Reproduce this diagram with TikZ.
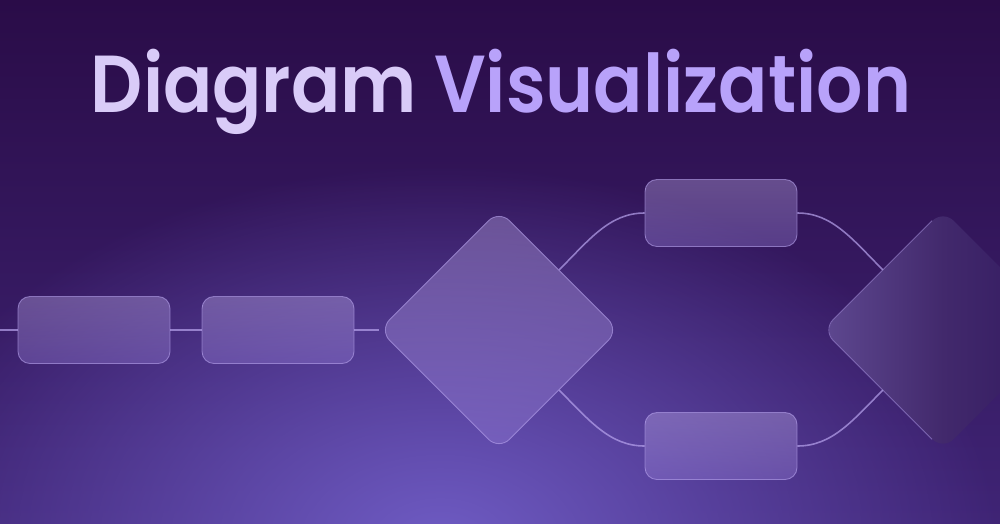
\documentclass[tikz,border=0pt]{standalone}
\usepackage{fontspec}
\newfontfamily\titlefont{Poppins}[UprightFont=* SemiBold]
\usetikzlibrary{shapes.geometric,positioning,fadings}

\definecolor{bgtop}{HTML}{2A0C48}
\definecolor{bgbot}{HTML}{3F2475}
\definecolor{glow}{HTML}{6F5CC4}
\definecolor{rdleft}{HTML}{5E4890}
\definecolor{rdmid}{HTML}{42296C}
\definecolor{rdright}{HTML}{30185F}
\definecolor{blocktop}{HTML}{C9B8F2}
\definecolor{blockbot}{HTML}{9A82DA}
\definecolor{blockline}{HTML}{B8A4EE}
\definecolor{linkcol}{HTML}{B8A4EE}
\definecolor{titleA}{HTML}{D9CBF8}
\definecolor{titleB}{HTML}{B8A2FA}

\tikzfading[name=glowfade, inner color=transparent!0, outer color=transparent!100]

\begin{document}
\begin{tikzpicture}[
    x=0.2mm, y=-0.2mm,
    block/.style={
        rectangle,
        rounded corners=2.4mm,
        minimum width=30.4mm,
        minimum height=13.4mm,
        inner sep=0pt,
        draw=blockline,
        draw opacity=0.6,
        line width=0.5pt,
        top color=blocktop,
        bottom color=blockbot,
        fill opacity=0.35
    },
    decision/.style={
        diamond,
        aspect=1,
        rounded corners=3mm,
        minimum width=48mm,
        minimum height=48mm,
        inner sep=0pt,
        draw=blockline,
        draw opacity=0.6,
        line width=0.5pt,
        top color=blocktop,
        bottom color=blockbot,
        fill opacity=0.35
    },
    fadeddecision/.style={
        diamond,
        aspect=1,
        rounded corners=3mm,
        minimum width=48mm,
        minimum height=48mm,
        inner sep=0pt,
        left color=rdleft,
        right color=rdright,
        middle color=rdmid
    },
    edge line/.style={
        draw=blockline,
        draw opacity=0.5,
        line width=0.5pt,
        rounded corners=3mm
    },
    link/.style={
        draw=linkcol,
        draw opacity=0.7,
        line width=0.9pt
    },
    title/.style={
        anchor=base,
        xscale=0.9,
        font=\titlefont\fontsize{46}{52}\selectfont
    }
]
\useasboundingbox (0,0) rectangle (1000,523);

% Sfondo
\shade[top color=bgtop, bottom color=bgbot] (0,0) rectangle (1000,523);
\fill[glow, path fading=glowfade] (440,545) ellipse (560 and 380);

% Titolo
\node[title] (head) at (501,112) {\color{titleA}Diagram \color{titleB}Visualization};

% Blocchi
\node[block] (ra) at (94,330) {};
\node[block, right of=ra, node distance=36.8mm] (rb) {};
\node[decision, right of=rb, node distance=44.2mm] (dec) {};
\node[block] (top) at (721,213) {};
\node[block] (bot) at (721,446) {};
\node[fadeddecision] (rdec) at (943,330) {};
\draw[edge line] ([shift={(-11,11)}]rdec.north) -- (rdec.west) -- ([shift={(-11,-11)}]rdec.south);

% Collegamenti
\coordinate (in) at (0,330);
\draw[link] (in) -- (ra);
\draw[link] (ra) -- (rb);
\draw[link] (rb) -- (dec);
\draw[link] (dec.north east) .. controls +(30,-30) and +(-35,0) .. (top.west);
\draw[link] (dec.south east) .. controls +(30,30) and +(-35,0) .. (bot.west);
\draw[link] (top.east) .. controls +(35,0) and +(-30,-30) .. (rdec.north west);
\draw[link] (bot.east) .. controls +(35,0) and +(-30,30) .. (rdec.south west);

\end{tikzpicture}
\end{document}
